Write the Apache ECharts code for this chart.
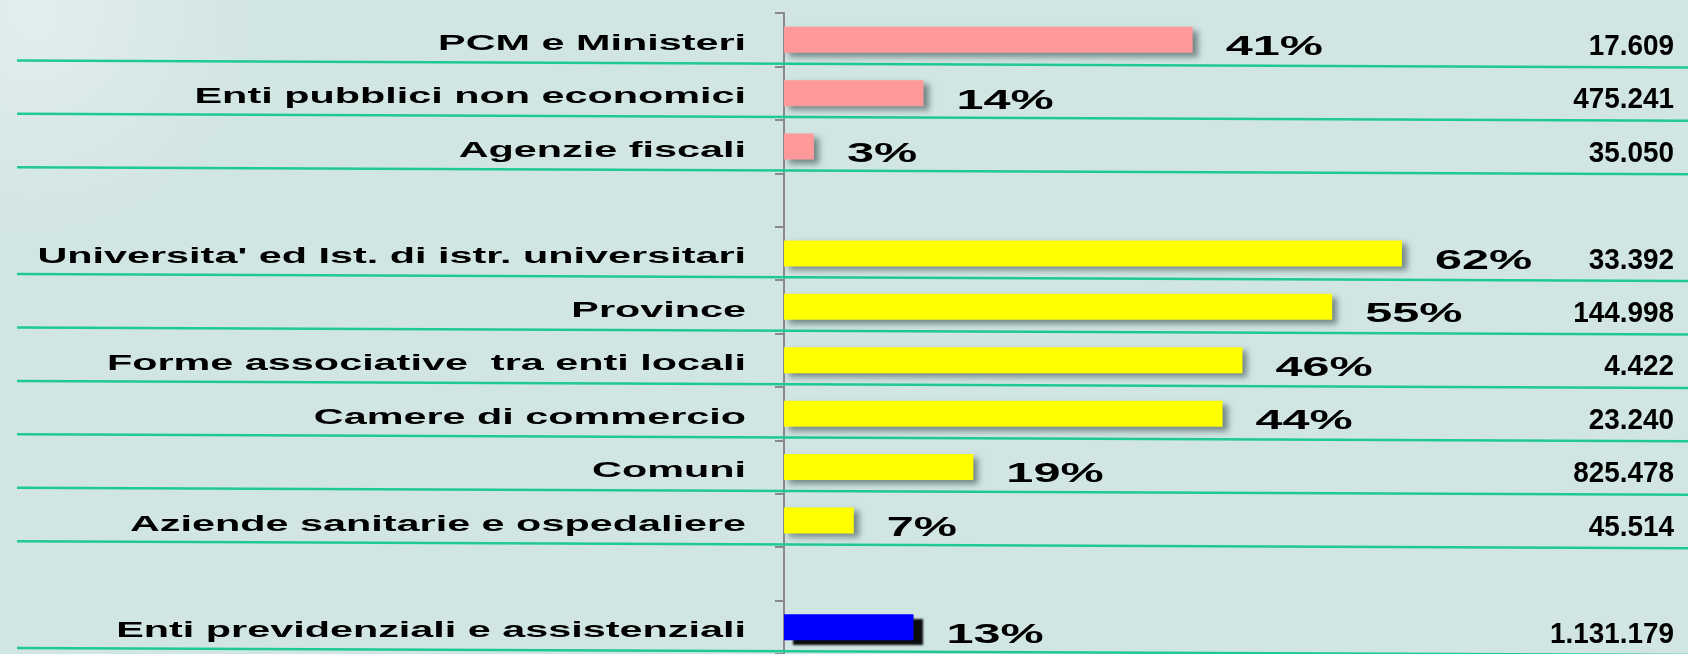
<!DOCTYPE html>
<html>
<head>
<meta charset="utf-8">
<script src="https://cdn.jsdelivr.net/npm/echarts@6/dist/echarts.min.js"></script>
<style>
  html, body { margin: 0; padding: 0; background: #d1e5e3; }
  #chart { width: 1688px; height: 654px; }
</style>
</head>
<body>
<div id="chart"></div>
<script>
// rows of the chart, blanks are the gaps between the groups
const categories = [
  'PCM e Ministeri',
  'Enti pubblici non economici',
  'Agenzie fiscali',
  '',
  "Universita' ed Ist. di istr. universitari",
  'Province',
  'Forme associative  tra enti locali',
  'Camere di commercio',
  'Comuni',
  'Aziende sanitarie e ospedaliere',
  '',
  'Enti previdenziali e assistenziali'
];
const groups = ['centrali', 'centrali', 'centrali', null, 'locali', 'locali', 'locali', 'locali', 'locali', 'locali', null, 'previdenza'];
const percent = [41, 14, 3, null, 62, 55, 46, 44, 19, 7, null, 13];
const totals = ['17.609', '475.241', '35.050', '', '33.392', '144.998', '4.422', '23.240', '825.478', '45.514', '', '1.131.179'];

const groupColor = { centrali: '#ff9999', locali: '#ffff00', previdenza: '#0000ff' };
const X_MAX = 90;

const chart = echarts.init(document.getElementById('chart'));

const barData = percent.map((v, i) => {
  if (v == null) return null;
  const g = groups[i];
  const hard = g === 'previdenza';
  return {
    value: v,
    itemStyle: {
      color: groupColor[g],
      shadowColor: hard ? 'rgba(0,0,0,0.95)' : 'rgba(40,60,60,0.55)',
      shadowBlur: hard ? 2 : 6,
      shadowOffsetX: hard ? 9 : 5,
      shadowOffsetY: hard ? 5 : 4
    }
  };
});

const rowIdx = categories.map((c, i) => (c ? i : null)).filter(i => i != null);
const labelData = rowIdx.map(i => [0, i]);
const pctData = rowIdx.map(i => [percent[i], i]);

// stretched bold text, anchored at (x, y)
const stretchedText = (x, y, text, align, size, sx) => ({
  type: 'text',
  x: x,
  y: y,
  scaleX: sx,
  style: {
    text: text,
    x: 0, y: 0,
    align: align,
    verticalAlign: 'middle',
    fill: '#000',
    font: 'bold ' + size + 'px "Liberation Sans", Arial, sans-serif'
  }
});

const options = {
  backgroundColor: {
    type: 'radial', x: 0.02, y: 0.02, r: 0.35,
    colorStops: [
      { offset: 0, color: '#e2eeed' },
      { offset: 1, color: '#d1e5e3' }
    ]
  },
  animation: false,
  grid: { left: 784, top: 13, width: 897, height: 646 },
  xAxis: {
    type: 'value',
    min: 0,
    max: X_MAX,
    show: false
  },
  yAxis: {
    type: 'category',
    inverse: true,
    data: categories,
    axisLine: { show: true, lineStyle: { color: '#8a8a8a', width: 2 } },
    axisTick: { show: true, length: 9, lineStyle: { color: '#8a8a8a', width: 2 } },
    axisLabel: { show: false },
    splitLine: { show: false }
  },
  series: [
    {
      // green separators under each row
      type: 'custom',
      z: 1,
      data: labelData,
      encode: { x: 0, y: 1 },
      renderItem: (params, api) => {
        const c = api.coord([0, api.value(1)]);
        const yb = c[1] + api.size([0, 1])[1] / 2;
        return {
          type: 'line',
          shape: { x1: 17, y1: yb - 6, x2: 1688, y2: yb + 1 },
          style: { stroke: '#1ec995', lineWidth: 2.5 }
        };
      }
    },
    {
      type: 'bar',
      z: 3,
      barWidth: 26,
      data: barData
    },
    {
      // row names
      type: 'custom',
      z: 4,
      data: labelData,
      encode: { x: 0, y: 1 },
      renderItem: (params, api) => {
        const i = api.value(1);
        const c = api.coord([0, i]);
        return stretchedText(c[0] - 38, c[1] + 4, categories[i], 'right', 22, 1.88);
      }
    },
    {
      // percentages after the bars
      type: 'custom',
      z: 4,
      data: pctData,
      encode: { x: 0, y: 1 },
      renderItem: (params, api) => {
        const c = api.coord([api.value(0), api.value(1)]);
        return stretchedText(c[0] + 33, c[1] + 8, api.value(0) + '%', 'left', 27, 1.8);
      }
    },
    {
      // totals on the right
      type: 'custom',
      z: 4,
      data: labelData,
      encode: { x: 0, y: 1 },
      renderItem: (params, api) => {
        const i = api.value(1);
        const c = api.coord([X_MAX, i]);
        return stretchedText(c[0] - 7, c[1] + 7, totals[i], 'right', 30, 0.93);
      }
    }
  ]
};

chart.setOption(options);
</script>
</body>
</html>
